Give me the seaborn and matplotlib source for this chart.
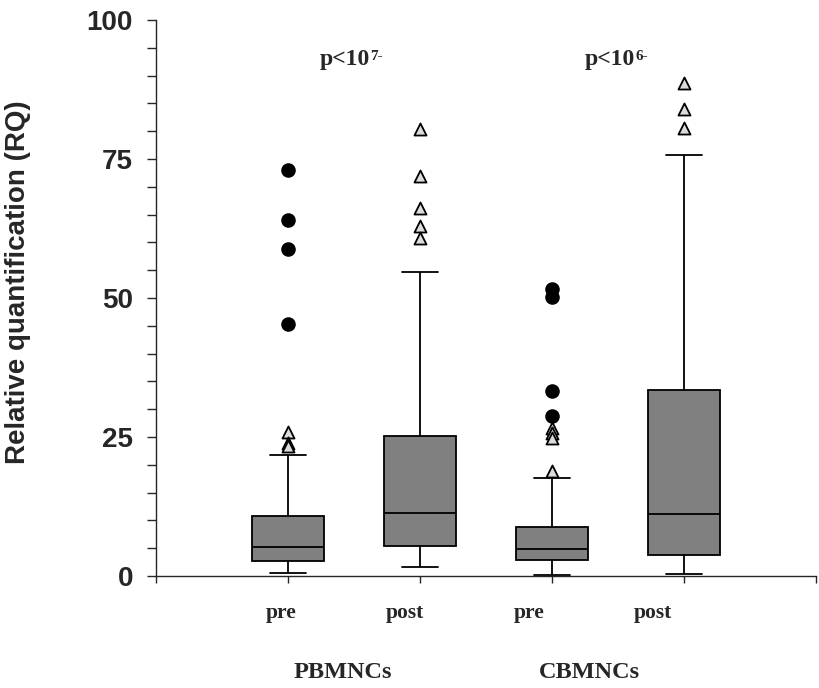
import numpy as np
import pandas as pd
import matplotlib
matplotlib.use("Agg")
import matplotlib.pyplot as plt
from matplotlib.ticker import MultipleLocator
import seaborn as sns

# ----------------------------- DATA -----------------------------
groups = ["PB pre", "PB post", "CB pre", "CB post"]
lower_whisker = [0.5, 1.6, 0.1, 0.4]
q1 = [2.7, 5.4, 2.8, 3.7]
median = [5.3, 11.4, 4.8, 11.2]
q3 = [10.7, 25.2, 8.9, 33.5]
upper_whisker = [21.7, 54.6, 17.7, 75.7]

# open triangles (outliers) and filled circles (extreme outliers)
tri_outliers = {
    "PB pre": [25.9, 23.9, 23.3],
    "PB post": [80.3, 72.0, 66.2, 63.0, 60.8],
    "CB pre": [26.6, 25.7, 24.9, 18.9],
    "CB post": [88.6, 84.0, 80.6],
}
dot_outliers = {
    "PB pre": [73.0, 64.0, 58.8, 45.4],
    "CB pre": [51.6, 50.2, 33.3, 28.8],
}

tick_names = ["pre", "post", "pre", "post"]
group_names = ["PBMNCs", "CBMNCs"]
p_texts = [("p<10", "7-"), ("p<10", "6-")]

# five numbers per box -> with whis=(0, 100) seaborn reproduces the box exactly
rows = []
for i, g in enumerate(groups):
    for v in [lower_whisker[i], q1[i], median[i], q3[i], upper_whisker[i]]:
        rows.append({"group": g, "RQ": v})
df = pd.DataFrame(rows)

sns.set_style("ticks")
plt.rcParams["font.family"] = ["Liberation Sans", "DejaVu Sans"]

fig = plt.figure(figsize=(8.2, 6.88), dpi=100)
ax = fig.add_axes([0.190, 0.1628, 0.805, 0.8082])

sns.boxplot(data=df, x="group", y="RQ", order=groups, whis=(0, 100),
            width=0.55, color="#808080", saturation=1, linecolor="black",
            linewidth=1.3, showfliers=False, ax=ax)

# outliers
pos = {g: i for i, g in enumerate(groups)}
tx = [pos[g] for g, vals in tri_outliers.items() for _ in vals]
ty = [v for vals in tri_outliers.values() for v in vals]
dx = [pos[g] for g, vals in dot_outliers.items() for _ in vals]
dy = [v for vals in dot_outliers.values() for v in vals]
sns.scatterplot(x=tx, y=ty, marker="^", s=75, color="#dcdcdc",
                edgecolor="black", linewidth=1.3, ax=ax, zorder=5, clip_on=False)
sns.scatterplot(x=dx, y=dy, marker="o", s=110, color="black",
                edgecolor="black", linewidth=0, ax=ax, zorder=5, clip_on=False)

# ----------------------------- AXES -----------------------------
ax.set_xlim(-1, 4)
ax.set_ylim(0, 100)
ax.set_xticks([-1, 0, 1, 2, 3, 4])
ax.set_xticklabels([])
ax.set_xlabel("")
ax.yaxis.set_major_locator(MultipleLocator(25))
ax.yaxis.set_minor_locator(MultipleLocator(5))
ax.tick_params(axis="y", which="both", length=6.5, width=1, direction="out",
               labelsize=20, pad=10)
ax.tick_params(axis="x", length=5, width=1, direction="out")
for lab in ax.get_yticklabels():
    lab.set_fontweight("bold")
for side in ["top", "right"]:
    ax.spines[side].set_visible(False)
for side in ["left", "bottom"]:
    ax.spines[side].set_linewidth(1)

ax.set_ylabel("Relative quantification (RQ)", fontsize=20, fontweight="bold")
ax.yaxis.set_label_coords(-0.189, 0.529)

# category labels below the axis (serif bold like the original)
serif = ["Liberation Serif", "DejaVu Serif"]
trans = ax.get_xaxis_transform()
for x, name in zip([-0.053, 0.886, 1.826, 2.765], tick_names):
    ax.text(x, -0.0665, name, transform=trans, ha="center", va="center",
            fontsize=15.5, fontweight="bold", family=serif)
for x, name in zip([0.417, 2.288], group_names):
    ax.text(x, -0.174, name, transform=trans, ha="center", va="center",
            fontsize=17.5, fontweight="bold", family=serif)

# p values with superscript exponent
for x, (base, sup) in zip([0.43, 2.44], p_texts):
    t = ax.text(x, 91.9, base, ha="center", va="baseline", fontsize=17,
                fontweight="bold", family=serif)
    ax.annotate(sup, xy=(1, 0.95), xycoords=t, xytext=(0.3, 0),
                textcoords="offset points", ha="left", va="top",
                fontsize=11, fontweight="bold", family=serif)

plt.savefig("out.png", dpi=100)
plt.close()
